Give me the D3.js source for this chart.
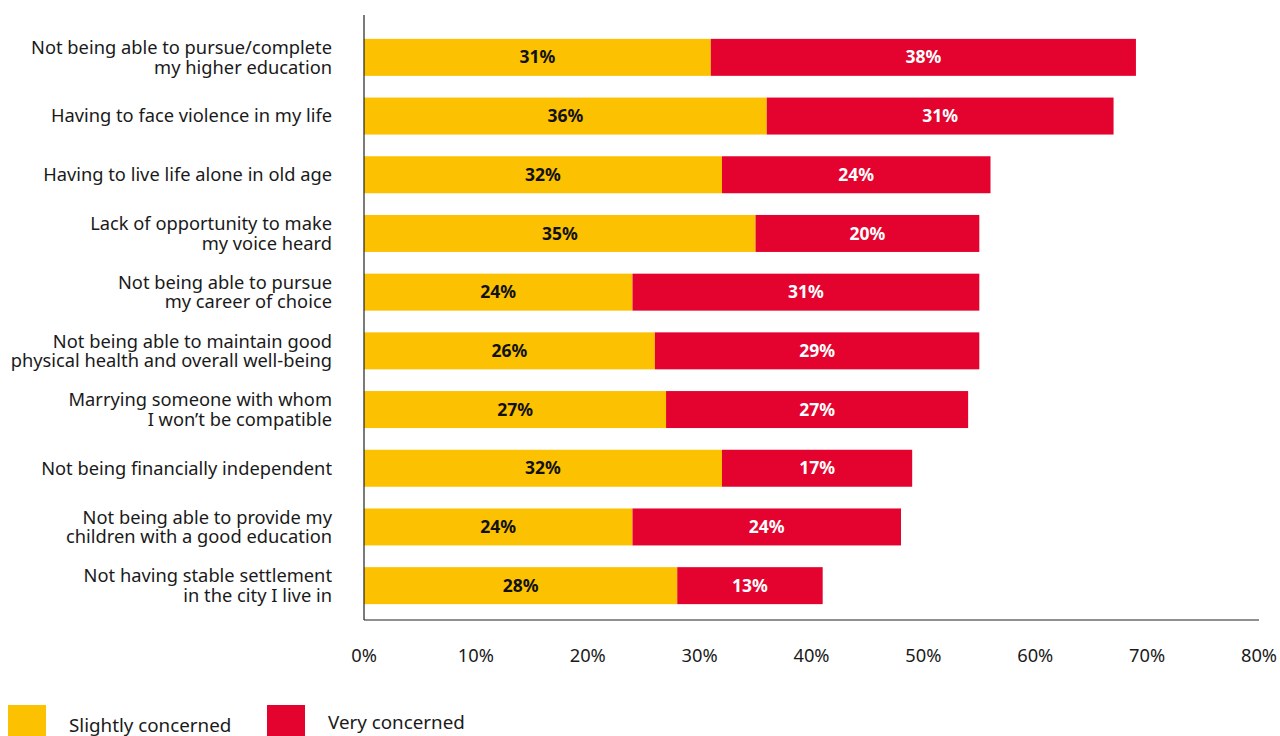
<!DOCTYPE html>
<meta charset="utf-8">
<style>
body { margin: 0; background: #fff; }
svg { font-family: "Noto Sans", "Open Sans", sans-serif; }
</style>
<svg width="1280" height="736"></svg>
<script src="https://d3js.org/d3.v7.min.js"></script>
<script>

// data
var categories = [
  ["Not being able to pursue/complete", "my higher education"],
  ["Having to face violence in my life"],
  ["Having to live life alone in old age"],
  ["Lack of opportunity to make", "my voice heard"],
  ["Not being able to pursue", "my career of choice"],
  ["Not being able to maintain good", "physical health and overall well-being"],
  ["Marrying someone with whom", "I won\u2019t be compatible"],
  ["Not being financially independent"],
  ["Not being able to provide my", "children with a good education"],
  ["Not having stable settlement", "in the city I live in"]
];
var slightly = [31, 36, 32, 35, 24, 26, 27, 32, 24, 28];
var very     = [38, 31, 24, 20, 31, 29, 27, 17, 24, 13];
var xTicks = [0, 10, 20, 30, 40, 50, 60, 70, 80];
var seriesNames = ["Slightly concerned", "Very concerned"];
var colours = ["#FCC100", "#E4032E"];

var svg = d3.select("svg");

var x = d3.scaleLinear().domain([0, 80]).range([364, 1259]);
var y = d3.scaleBand()
    .domain(d3.range(categories.length))
    .range([28, 615])
    .paddingInner(0.37)
    .paddingOuter(0.185);

var rows = categories.map(function(c, i) {
  return {i: i, lines: c, s: slightly[i], v: very[i]};
});

// bars
var g = svg.append("g");
var row = g.selectAll("g.row").data(rows).enter().append("g").attr("class", "row");

row.append("rect")
    .attr("x", x(0))
    .attr("y", function(d) { return y(d.i); })
    .attr("width", function(d) { return x(d.s) - x(0); })
    .attr("height", y.bandwidth())
    .attr("fill", colours[0]);

row.append("rect")
    .attr("x", function(d) { return x(d.s); })
    .attr("y", function(d) { return y(d.i); })
    .attr("width", function(d) { return x(d.s + d.v) - x(d.s); })
    .attr("height", y.bandwidth())
    .attr("fill", colours[1]);

row.append("text")
    .attr("x", function(d) { return x(d.s / 2); })
    .attr("y", function(d) { return y(d.i) + y.bandwidth() / 2; })
    .attr("dy", "0.35em")
    .attr("text-anchor", "middle")
    .style("font-size", "17.5px").style("font-weight", "bold")
    .attr("fill", "#111")
    .text(function(d) { return d.s + "%"; });

row.append("text")
    .attr("x", function(d) { return x(d.s + d.v / 2); })
    .attr("y", function(d) { return y(d.i) + y.bandwidth() / 2; })
    .attr("dy", "0.35em")
    .attr("text-anchor", "middle")
    .style("font-size", "17.5px").style("font-weight", "bold")
    .attr("fill", "#fff")
    .text(function(d) { return d.v + "%"; });

// category labels, right aligned next to the axis
var lab = row.append("text")
    .attr("text-anchor", "end")
    .style("font-size", "18.3px")
    .attr("fill", "#1a1a1a");
lab.each(function(d) {
  var t = d3.select(this);
  var cy = y(d.i) + y.bandwidth() / 2;
  var n = d.lines.length;
  d.lines.forEach(function(l, k) {
    t.append("tspan")
      .attr("x", 332)
      .attr("y", cy + (k - (n - 1) / 2) * 19.5)
      .attr("dy", "0.35em")
      .text(l);
  });
});

// axis lines
svg.append("line")
    .attr("x1", x(0)).attr("x2", x(0)).attr("y1", 15).attr("y2", 620)
    .attr("stroke", "#222").attr("stroke-width", 1.2);
svg.append("line")
    .attr("x1", x(0)).attr("x2", x(80)).attr("y1", 620).attr("y2", 620)
    .attr("stroke", "#222").attr("stroke-width", 1.2);

svg.append("g").selectAll("text").data(xTicks).enter().append("text")
    .attr("x", function(d) { return x(d); })
    .attr("y", 656)
    .attr("dy", "0.35em")
    .attr("text-anchor", "middle")
    .style("font-size", "18.3px")
    .attr("fill", "#1a1a1a")
    .text(function(d) { return d + "%"; });

// legend
var legX = [8, 267];
var leg = svg.append("g").selectAll("g").data(seriesNames).enter().append("g");
leg.append("rect")
    .attr("x", function(d, i) { return legX[i]; })
    .attr("y", 705)
    .attr("width", 38).attr("height", 31)
    .attr("fill", function(d, i) { return colours[i]; });
leg.append("text")
    .attr("x", function(d, i) { return legX[i] + 61; })
    .attr("y", function(d, i) { return i === 0 ? 725 : 722; })
    .attr("dy", "0.35em")
    .style("font-size", "18.8px")
    .attr("fill", "#1a1a1a")
    .text(function(d) { return d; });

</script>
